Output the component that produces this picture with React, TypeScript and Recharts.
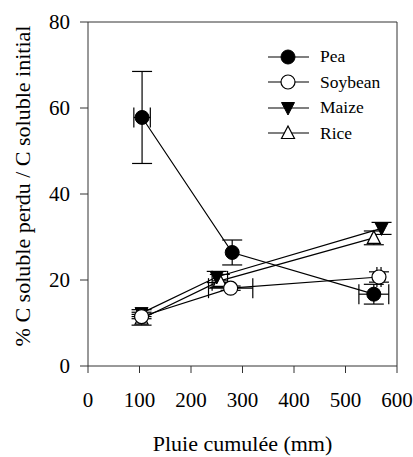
import React from 'react';
import { ScatterChart, Scatter, XAxis, YAxis, ErrorBar, ReferenceLine } from 'recharts';

const FONT = '"Liberation Serif", Times, serif';
const INK = '#000';
const AXIS = '#333';

const xTicks = [0, 100, 200, 300, 400, 500, 600];
const yTicks = [0, 20, 40, 60, 80];

const peaRain = [105, 280, 555];
const peaValue = [57.8, 26.4, 16.7];
const peaErrY = [10.7, 2.9, 2.3];
const peaErrX = [16, 0, 29];

const soyRain = [104, 277, 565];
const soyValue = [11.5, 18.1, 20.7];
const soyErrY = [0.5, 0.5, 1.2];
const soyErrX = [0, 43, 4];

const maizeRain = [104, 250, 570];
const maizeValue = [12.3, 20.7, 32];
const maizeErrY = [0.8, 1.3, 1.4];
const maizeErrX = [0, 0, 0];

const riceRain = [104, 256, 555];
const riceValue = [11, 19.8, 29.8];
const riceErrY = [1.5, 1.5, 1.6];
const riceErrX = [0, 15, 0];

const build = (xs: number[], ys: number[], ey: number[], ex: number[]) =>
  xs.map((x, i) => ({ x, y: ys[i], ey: ey[i], ex: ex[i] }));

const peaData = build(peaRain, peaValue, peaErrY, peaErrX);
const soyData = build(soyRain, soyValue, soyErrY, soyErrX);
const maizeData = build(maizeRain, maizeValue, maizeErrY, maizeErrX);
const riceData = build(riceRain, riceValue, riceErrY, riceErrX);

const FilledCircle = (p: any) => <circle cx={p.cx} cy={p.cy} r={7} fill={INK} stroke={INK} />;
const OpenCircle = (p: any) => <circle cx={p.cx} cy={p.cy} r={7} fill="#fff" stroke={INK} strokeWidth={1.2} />;
const TriDown = (p: any) => (
  <polygon
    points={`${p.cx - 6.5},${p.cy - 5.5} ${p.cx + 6.5},${p.cy - 5.5} ${p.cx},${p.cy + 7}`}
    fill={INK}
    stroke={INK}
  />
);
const TriUp = (p: any) => (
  <polygon
    points={`${p.cx},${p.cy - 7} ${p.cx - 6.5},${p.cy + 5.5} ${p.cx + 6.5},${p.cy + 5.5}`}
    fill="#fff"
    stroke={INK}
    strokeWidth={1.2}
  />
);

const legendItems = [
  { name: 'Pea', Shape: FilledCircle },
  { name: 'Soybean', Shape: OpenCircle },
  { name: 'Maize', Shape: TriDown },
  { name: 'Rice', Shape: TriUp },
];

const YLabel = () => (
  <text
    transform="translate(22,186) rotate(-90)"
    textAnchor="middle"
    dominantBaseline="central"
    style={{ fontFamily: FONT, fontSize: 22 }}
    fill={INK}
  >
    % C soluble perdu / C soluble initial
  </text>
);

export default function App() {
  const series = [
    { key: 'rice', data: riceData, Shape: TriUp },
    { key: 'maize', data: maizeData, Shape: TriDown },
    { key: 'soy', data: soyData, Shape: OpenCircle },
    { key: 'pea', data: peaData, Shape: FilledCircle },
  ];

  return (
    <div style={{ position: 'absolute', left: 0, top: 0, width: 413, height: 457, background: '#fff', fontFamily: FONT }}>
      <ScatterChart
        width={413}
        height={457}
        margin={{ top: 22, right: 16, bottom: 0, left: 0 }}
        style={{ fontFamily: FONT }}
      >
        <XAxis
          type="number"
          dataKey="x"
          domain={[0, 600]}
          ticks={xTicks}
          tickSize={7}
          tickMargin={19}
          height={91}
          stroke={AXIS}
          tick={{ fill: INK, fontSize: 21, style: { fontFamily: FONT } }}
          label={{
            value: 'Pluie cumulée (mm)',
            position: 'insideBottom',
            offset: 6,
            fill: INK,
            fontSize: 22,
            style: { fontFamily: FONT },
          }}
        />
        <YAxis
          type="number"
          dataKey="y"
          domain={[0, 80]}
          ticks={yTicks}
          tickSize={8}
          tickMargin={10}
          width={88}
          stroke={AXIS}
          tick={{ fill: INK, fontSize: 21, style: { fontFamily: FONT } }}
          label={<YLabel />}
        />
        <ReferenceLine y={80} stroke={AXIS} />
        <ReferenceLine x={600} stroke={AXIS} />
        {series.map(({ key, data, Shape }) => (
          <Scatter
            key={key}
            data={data}
            line={{ stroke: INK, strokeWidth: 1.2 }}
            lineType="joint"
            shape={(p: any) => <Shape {...p} />}
            isAnimationActive={false}
          >
            <ErrorBar dataKey="ey" direction="y" width={10} stroke={INK} strokeWidth={1.2} isAnimationActive={false} />
            <ErrorBar dataKey="ex" direction="x" width={10} stroke={INK} strokeWidth={1.2} isAnimationActive={false} />
          </Scatter>
        ))}
      </ScatterChart>
      <div style={{ position: 'absolute', left: 266, top: 44, fontSize: 17.5, color: INK, fontFamily: FONT }}>
        {legendItems.map(({ name, Shape }) => (
          <div key={name} style={{ display: 'flex', alignItems: 'center', height: 25.5 }}>
            <svg width={44} height={18}>
              <line x1={2} y1={9} x2={43} y2={9} stroke={INK} strokeWidth={1.2} />
              <Shape cx={22} cy={9} />
            </svg>
            <span style={{ marginLeft: 10 }}>{name}</span>
          </div>
        ))}
      </div>
    </div>
  );
}
